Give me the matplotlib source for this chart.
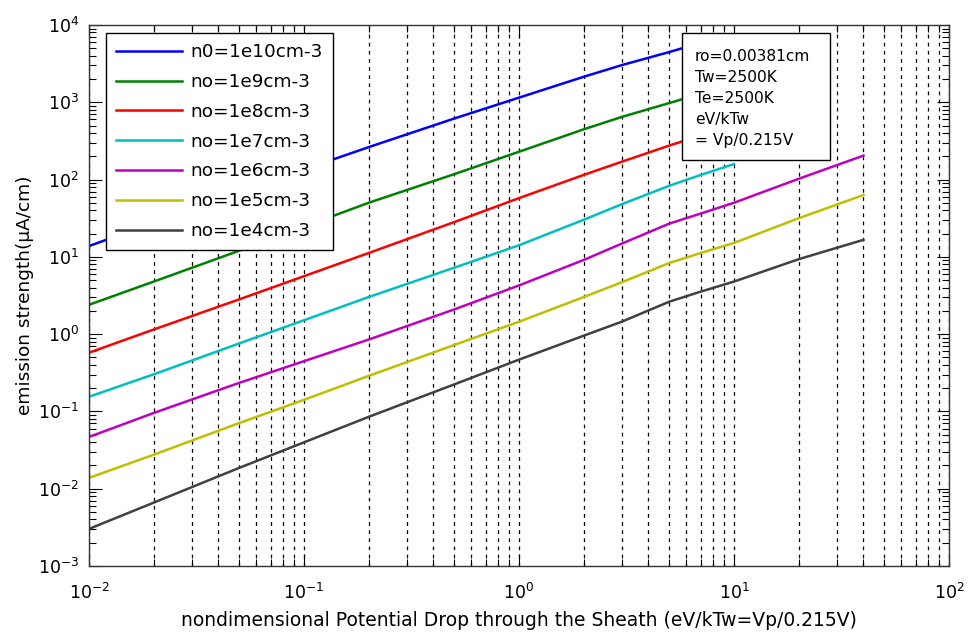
import matplotlib
matplotlib.use("Agg")
import matplotlib.pyplot as plt
import matplotlib.ticker as mticker
from matplotlib.patches import Rectangle
import numpy as np

plt.rcParams['font.family'] = ['DejaVu Sans']
plt.rcParams['mathtext.fontset'] = 'dejavusans'

# potential drop (x) and log10 of emission strength
x_pts = [0.01, 0.02, 0.05, 0.1, 0.2, 0.5, 1, 2, 3, 5, 7, 10, 20, 40]

log_n1e10 = [1.14, 1.44, 1.83, 2.13, 2.42, 2.79, 3.06, 3.33, 3.48, 3.65, 3.77]
log_n1e9 = [0.38, 0.68, 1.08, 1.39, 1.70, 2.07, 2.36, 2.65, 2.81, 2.99, 3.11, 3.24]
log_n1e8 = [-0.24, 0.06, 0.45, 0.75, 1.05, 1.45, 1.76, 2.06, 2.23, 2.44, 2.57, 2.70]
log_n1e7 = [-0.81, -0.52, -0.12, 0.18, 0.48, 0.86, 1.15, 1.48, 1.68, 1.92, 2.06, 2.20]
log_n1e6 = [-1.33, -1.02, -0.63, -0.35, -0.07, 0.32, 0.63, 0.96, 1.17, 1.43, 1.56, 1.70, 2.01, 2.31]
log_n1e5 = [-1.86, -1.56, -1.15, -0.85, -0.54, -0.14, 0.16, 0.48, 0.67, 0.92, 1.05, 1.18, 1.50, 1.80]
log_n1e4 = [-2.52, -2.18, -1.73, -1.40, -1.07, -0.65, -0.33, -0.02, 0.16, 0.42, 0.55, 0.68, 0.97, 1.22]

labels = ['n0=1e10cm-3', 'no=1e9cm-3', 'no=1e8cm-3', 'no=1e7cm-3',
          'no=1e6cm-3', 'no=1e5cm-3', 'no=1e4cm-3']
colors = ['#0000ff', '#008000', '#ff0000', '#00bfbf', '#bf00bf', '#bfbf00', '#404040']
series = [log_n1e10, log_n1e9, log_n1e8, log_n1e7, log_n1e6, log_n1e5, log_n1e4]

x_decades = [-2, -1, 0, 1, 2]
y_decades = [-3, -2, -1, 0, 1, 2, 3, 4]

fig = plt.figure(figsize=(9.68, 6.34), dpi=100)
ax = fig.add_axes([89 / 968, 68 / 634, 860 / 968, 541 / 634])

for ys, c, lab in zip(series, colors, labels):
    xs = x_pts[:len(ys)]
    ax.plot(xs, 10 ** np.array(ys), color=c, lw=1.8, label=lab)

ax.set_xscale('log')
ax.set_yscale('log')
ax.set_xlim(1e-2, 1e2)
ax.set_ylim(1e-3, 1e4)

ax.set_xticks([10.0 ** k for k in x_decades])
ax.set_xticklabels(['$10^{%d}$' % k for k in x_decades])
ax.set_yticks([10.0 ** k for k in y_decades])
ax.set_yticklabels(['$10^{%d}$' % k for k in y_decades])
x_minor = [m * 10.0 ** k for k in x_decades[:-1] for m in range(2, 10)]
y_minor = [m * 10.0 ** k for k in y_decades[:-1] for m in range(2, 10)]
ax.set_xticks(x_minor, minor=True)
ax.set_yticks(y_minor, minor=True)
ax.xaxis.set_minor_formatter(mticker.NullFormatter())
ax.yaxis.set_minor_formatter(mticker.NullFormatter())

ax.tick_params(which='both', direction='in', top=True, right=True, labelsize=12.5, colors='k')
ax.tick_params(which='major', length=9, width=0.8)
ax.tick_params(which='minor', length=5, width=0.8)
ax.tick_params(axis='x', pad=12)
ax.tick_params(axis='y', pad=7)

# vertical dashed grid only
ax.xaxis.grid(True, which='both', linestyle=(0, (3, 3.5)), color='k', linewidth=0.9)
ax.yaxis.grid(False, which='both')

for s in ax.spines.values():
    s.set_linewidth(1.0)
    s.set_color('#333333')

ax.set_xlabel('nondimensional Potential Drop through the Sheath (eV/kTw=Vp/0.215V)', fontsize=13.5, labelpad=6)
ax.set_ylabel('emission strength(μA/cm)', fontsize=13.3)
ax.yaxis.set_label_coords(-0.064, 0.5)

leg = ax.legend(loc='upper left', bbox_to_anchor=(17 / 860, 1 - 8 / 541), borderaxespad=0,
                fontsize=13.3, frameon=True, fancybox=False, edgecolor='k', framealpha=1,
                handlelength=3.57, labelspacing=0.64, borderpad=0.55, handletextpad=0.45)
leg.get_frame().set_linewidth(1.0)

# parameter box
ax.add_patch(Rectangle((0.6895, 0.7505), 0.172, 0.2345, transform=ax.transAxes,
                       facecolor='white', edgecolor='k', linewidth=1.0, zorder=5))
ax.text(0.7047, 0.956, 'ro=0.00381cm\nTw=2500K\nTe=2500K\neV/kTw\n= Vp/0.215V',
        transform=ax.transAxes, ha='left', va='top', fontsize=11.2, linespacing=1.5,
        zorder=6)

fig.savefig('out.png', dpi=100)
